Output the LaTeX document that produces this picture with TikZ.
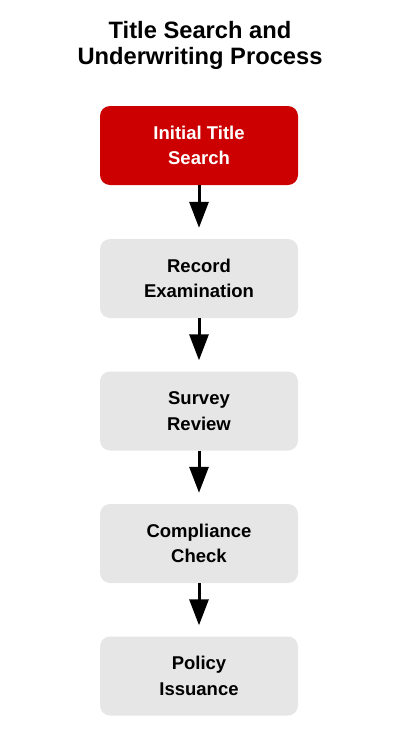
\documentclass[tikz,border=0pt]{standalone}
\usepackage{fontspec}
\setmainfont{Liberation Sans}
\usetikzlibrary{arrows.meta}
\definecolor{boxred}{HTML}{CC0000}
\definecolor{boxgray}{HTML}{E6E6E6}
\tikzset{
  stepbox/.style={rounded corners=10pt, minimum width=198pt, minimum height=79pt,
    inner sep=0pt, align=center, font=\fontsize{18.5}{25.7}\selectfont\bfseries, draw=none},
  firstbox/.style={stepbox, fill=boxred, text=white},
  otherbox/.style={stepbox, fill=boxgray, text=black},
  flowarrow/.style={line width=3pt, -{Triangle[length=26pt,width=19pt]}, shorten >=11pt}
}
\begin{document}
\begin{tikzpicture}[x=1pt,y=-1pt]
\useasboundingbox (0,0) rectangle (400,747);
\node[font=\fontsize{23.7}{26}\selectfont\bfseries, align=center] (title) at (200,45.5) {Title Search and\\Underwriting Process};
\node[firstbox] (s1) at (199,145.5) {Initial Title\\Search};
\node[otherbox] (s2) at (199,278.5) {Record\\Examination};
\node[otherbox] (s3) at (199,411) {Survey\\Review};
\node[otherbox] (s4) at (199,543.5) {Compliance\\Check};
\node[otherbox] (s5) at (199,676) {Policy\\Issuance};
\draw[flowarrow] (s1) -- (s2);
\draw[flowarrow] (s2) -- (s3);
\draw[flowarrow] (s3) -- (s4);
\draw[flowarrow] (s4) -- (s5);
\end{tikzpicture}
\end{document}
